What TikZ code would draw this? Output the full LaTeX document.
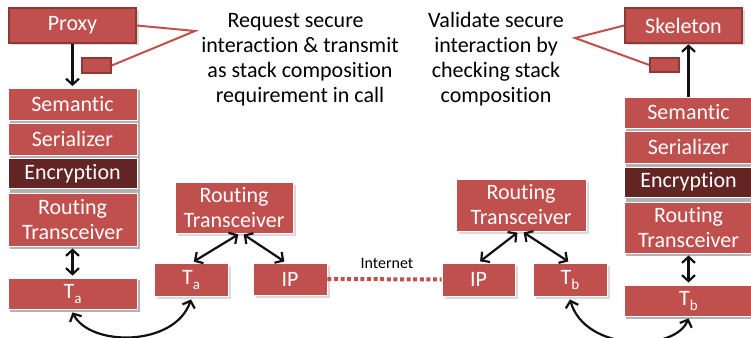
\documentclass[tikz,border=0pt]{standalone}
\usepackage{fontspec}
\setmainfont{Carlito}[Ligatures=NoCommon]
\usetikzlibrary{arrows.meta,shadows,backgrounds}
\definecolor{boxred}{HTML}{C0504D}
\definecolor{boxdark}{HTML}{632523}
\definecolor{boxedge}{HTML}{8C3A38}
\definecolor{ink}{HTML}{111111}
\newcommand{\lowsub}[1]{\raisebox{-5pt}{\fontsize{15}{15}\selectfont #1}}

\begin{document}
\begin{tikzpicture}[x=1pt,y=-1pt,
  sz/.style 2 args={minimum width=#1pt, minimum height=#2pt},
  blk/.style={fill=boxred, draw=white, line width=0.8pt, text=white,
    font=\fontsize{22}{25}\selectfont, align=center, inner sep=0pt},
  shd/.style={drop shadow={shadow xshift=2.5pt, shadow yshift=-2.5pt, opacity=0.3}},
  darkblk/.style={blk, fill=boxdark},
  edged/.style={blk, draw=boxedge, line width=1.6pt},
  note/.style={fill=boxred, draw=boxedge, line width=1.4pt, inner sep=0pt},
  callout/.style={draw=boxred, line width=2pt},
  arr/.style={draw=ink, line width=2.2pt, -{Straight Barb[length=6pt,width=13pt]}},
  dbl/.style={draw=ink, line width=2.2pt,
    {Straight Barb[length=6pt,width=13pt]}-{Straight Barb[length=6pt,width=13pt]}},
  wire/.style={draw=boxred, line width=4pt, dash pattern=on 4pt off 2.6pt},
  words/.style={text=black, font=\fontsize{22}{25}\selectfont, align=center, inner sep=0pt}
]
\useasboundingbox (0,0) rectangle (751,337);

% ---- sender stack ----
\node[edged, shd, sz={127}{35}] (proxy) at (72.5,25.5) {Proxy};
\node[note, sz={29}{15}] (lnote) at (96.5,65.5) {};
\node[blk, sz={129}{32}] (lsem) at (72.5,104) {Semantic};
\node[blk, sz={129}{32}] (lser) at (72.5,139) {Serializer};
\node[darkblk, sz={129}{30}] (lenc) at (72.5,173.5) {Encryption};
\node[blk, sz={129}{53}] (lrt) at (72.5,219.5) {Routing\\Transceiver};
\node[blk, sz={129}{31}] (lta) at (72.5,293.5) {T\lowsub{a}};

% ---- receiver stack ----
\node[edged, shd, sz={117}{35}] (skel) at (683.5,25.5) {Skeleton};
\node[note, sz={29}{14}] (rnote) at (664.5,65) {};
\node[blk, sz={129}{31}] (rsem) at (688.5,112.5) {Semantic};
\node[blk, sz={129}{32}] (rser) at (688.5,147) {Serializer};
\node[darkblk, sz={129}{30}] (renc) at (688.5,182) {Encryption};
\node[blk, sz={129}{51}] (rrt) at (688.5,227.5) {Routing\\Transceiver};
\node[blk, sz={129}{31}] (rtb) at (688.5,300.5) {T\lowsub{b}};

% ---- gateways ----
\node[blk, shd, sz={118}{51}] (mrt1) at (234,207.5) {Routing\\Transceiver};
\node[blk, shd, sz={74}{33}] (mta) at (191,279.5) {T\lowsub{a}};
\node[blk, shd, sz={74}{32}] (mip1) at (290,279) {IP};
\node[blk, shd, sz={130}{52}] (mrt2) at (521,205) {Routing\\Transceiver};
\node[blk, shd, sz={73}{33}] (mip2) at (478.5,279.5) {IP};
\node[blk, shd, sz={74}{33}] (mtb) at (570,279.5) {T\lowsub{b}};

% soft shadows behind the stacked columns
\begin{scope}[on background layer]
  \fill[black, opacity=0.3] ([shift={(2.5,2.5)}]lsem.north west) rectangle ([shift={(2.5,2.5)}]lrt.south east);
  \fill[black, opacity=0.3] ([shift={(2.5,2.5)}]lta.north west) rectangle ([shift={(2.5,2.5)}]lta.south east);
  \fill[black, opacity=0.3] ([shift={(2.5,2.5)}]rsem.north west) rectangle ([shift={(2.5,2.5)}]rrt.south east);
  \fill[black, opacity=0.3] ([shift={(2.5,2.5)}]rtb.north west) rectangle ([shift={(2.5,2.5)}]rtb.south east);
\end{scope}

% ---- explanatory texts with callouts ----
\node[words] (req) at (300,59.5) {Request secure\hspace*{0.4em}\\interaction \& transmit\\as stack composition\\requirement in call};
\node[words] (val) at (496,59.5) {Validate secure\\interaction by\\checking stack\\composition};
\coordinate (lapex) at (195,31);
\coordinate (rapex) at (575,38);
\draw[callout] (proxy.east) -- (lapex) -- (lnote.east);
\draw[callout] (skel.west) -- (rapex) -- (rnote.west);

% ---- calls through the stacks ----
\draw[arr, shorten >=1.5pt] (proxy.south) -- (lsem.north);
\draw[arr, shorten >=0.5pt] (rsem.north) -- (rsem.north |- skel.south);
\draw[dbl, shorten <=2pt, shorten >=2pt] (lrt.south) -- (lta.north);
\draw[dbl, shorten <=2pt, shorten >=2pt] (rrt.south) -- (rtb.north);

% ---- gateway links ----
\draw[dbl, shorten <=2pt, shorten >=2pt] ([xshift=6pt]mrt1.south) -- ([xshift=1pt]mta.north);
\draw[dbl, shorten <=2pt, shorten >=2pt] ([xshift=8pt]mrt1.south) -- ([xshift=-4pt]mip1.north);
\draw[dbl, shorten <=2pt, shorten >=2pt] ([xshift=-2pt]mrt2.south) -- (mip2.north);
\draw[dbl, shorten <=2pt, shorten >=2pt] ([xshift=1pt]mrt2.south) -- (mtb.north);

% ---- internet link ----
\draw[wire] (mip1.east) -- (mip2.west);
\node[text=black, font=\fontsize{16}{18}\selectfont, inner sep=0pt] (inet) at (387,263) {Internet};

% ---- local transport hops ----
\draw[dbl] ([yshift=-3pt]lta.south) .. controls (90,347) and (175,347) .. ([yshift=-3pt]mta.south);
\draw[dbl] ([yshift=-3pt]mtb.south) .. controls (585,352) and (675,352) .. ([yshift=-2pt]rtb.south);
\end{tikzpicture}
\end{document}
